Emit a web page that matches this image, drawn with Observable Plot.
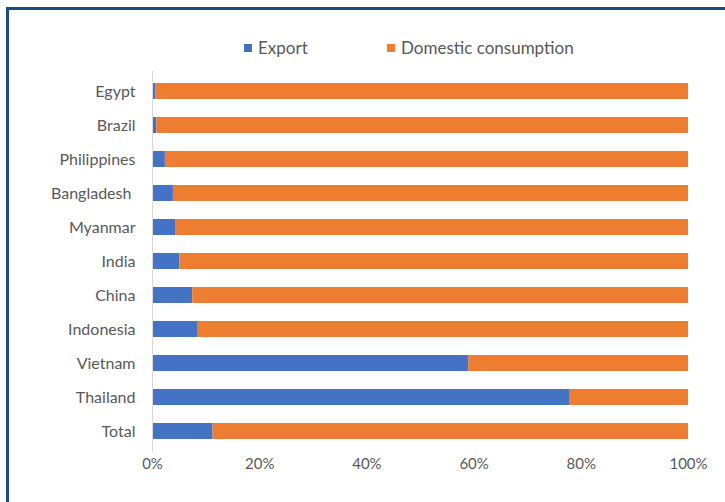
<!DOCTYPE html>
<html>
<head>
<meta charset="utf-8">
<script src="https://cdn.jsdelivr.net/npm/d3@7"></script>
<script src="https://cdn.jsdelivr.net/npm/@observablehq/plot@0.6"></script>
<style>
  html, body { margin: 0; padding: 0; background: #fff; }
  #frame { position: relative; width: 725px; height: 502px; overflow: hidden; background: #fff; }
  #border { position: absolute; left: 6px; top: 7px; right: -10px; bottom: -10px;
            border-left: 3px solid #1c4a86; border-top: 3px solid #1c4a86; pointer-events: none; z-index: 2; }
  #legend { position: absolute; left: 0; top: 0; width: 725px; height: 70px;
            font-family: Lato, "Liberation Sans", sans-serif; font-size: 17px; color: #595959; }
  .li { position: absolute; top: 37px; display: flex; align-items: center; white-space: nowrap; }
  .sw { width: 8px; height: 8px; margin-right: 6px; display: inline-block; }
  #chart { position: absolute; left: 0; top: 70px; }
</style>
</head>
<body>
<div id="frame">
  <div id="border"></div>
  <div id="legend"></div>
  <div id="chart"></div>
</div>
<script>
const categories = ["Egypt", "Brazil", "Philippines", "Bangladesh", "Myanmar", "India", "China", "Indonesia", "Vietnam", "Thailand", "Total"];
const exportShare =   [0.6, 0.8, 2.4, 3.9, 4.3, 5.1, 7.5, 8.4, 59.0, 77.8, 11.3];
const domesticShare = [99.4, 99.2, 97.6, 96.1, 95.7, 94.9, 92.5, 91.6, 41.0, 22.2, 88.7];
const seriesNames = ["Export", "Domestic consumption"];
const seriesColors = ["#4472c4", "#ed7d31"];
const xTicks = [0, 20, 40, 60, 80, 100];

const rows = [];
categories.forEach((c, i) => {
  rows.push({country: c, series: seriesNames[0], value: exportShare[i]});
  rows.push({country: c, series: seriesNames[1], value: domesticShare[i]});
});

// legend
const legend = document.getElementById("legend");
const legendX = [244, 387];
seriesNames.forEach((s, i) => {
  const d = document.createElement("div");
  d.className = "li";
  d.style.left = legendX[i] + "px";
  d.innerHTML = `<span class="sw" style="background:${seriesColors[i]}"></span><span>${s}</span>`;
  legend.appendChild(d);
});

const chart = Plot.plot({
  width: 725,
  height: 432,
  marginLeft: 152,
  marginRight: 37,
  marginTop: 1,
  marginBottom: 50,
  style: {fontFamily: "Lato, 'Liberation Sans', sans-serif", fontSize: "16px", color: "#595959", background: "transparent"},
  x: {domain: [0, 100], ticks: xTicks, tickFormat: d => d + "%", tickSize: 0, tickPadding: 6, label: null},
  y: {domain: categories, paddingInner: 0.52, paddingOuter: 0.24, tickSize: 0, tickPadding: 17, label: null,
      tickFormat: d => d === "Bangladesh" ? "Bangladesh\u00a0" : d},
  color: {domain: seriesNames, range: seriesColors},
  marks: [
    Plot.barX(rows, Plot.stackX({x: "value", y: "country", fill: "series", order: seriesNames})),
    Plot.ruleX([0], {stroke: "#d9d9d9", strokeWidth: 1})
  ]
});
chart.querySelectorAll("[aria-label='x-axis tick label'] text").forEach(t => t.setAttribute("font-size", "15px"));
document.getElementById("chart").appendChild(chart);
</script>
</body>
</html>
